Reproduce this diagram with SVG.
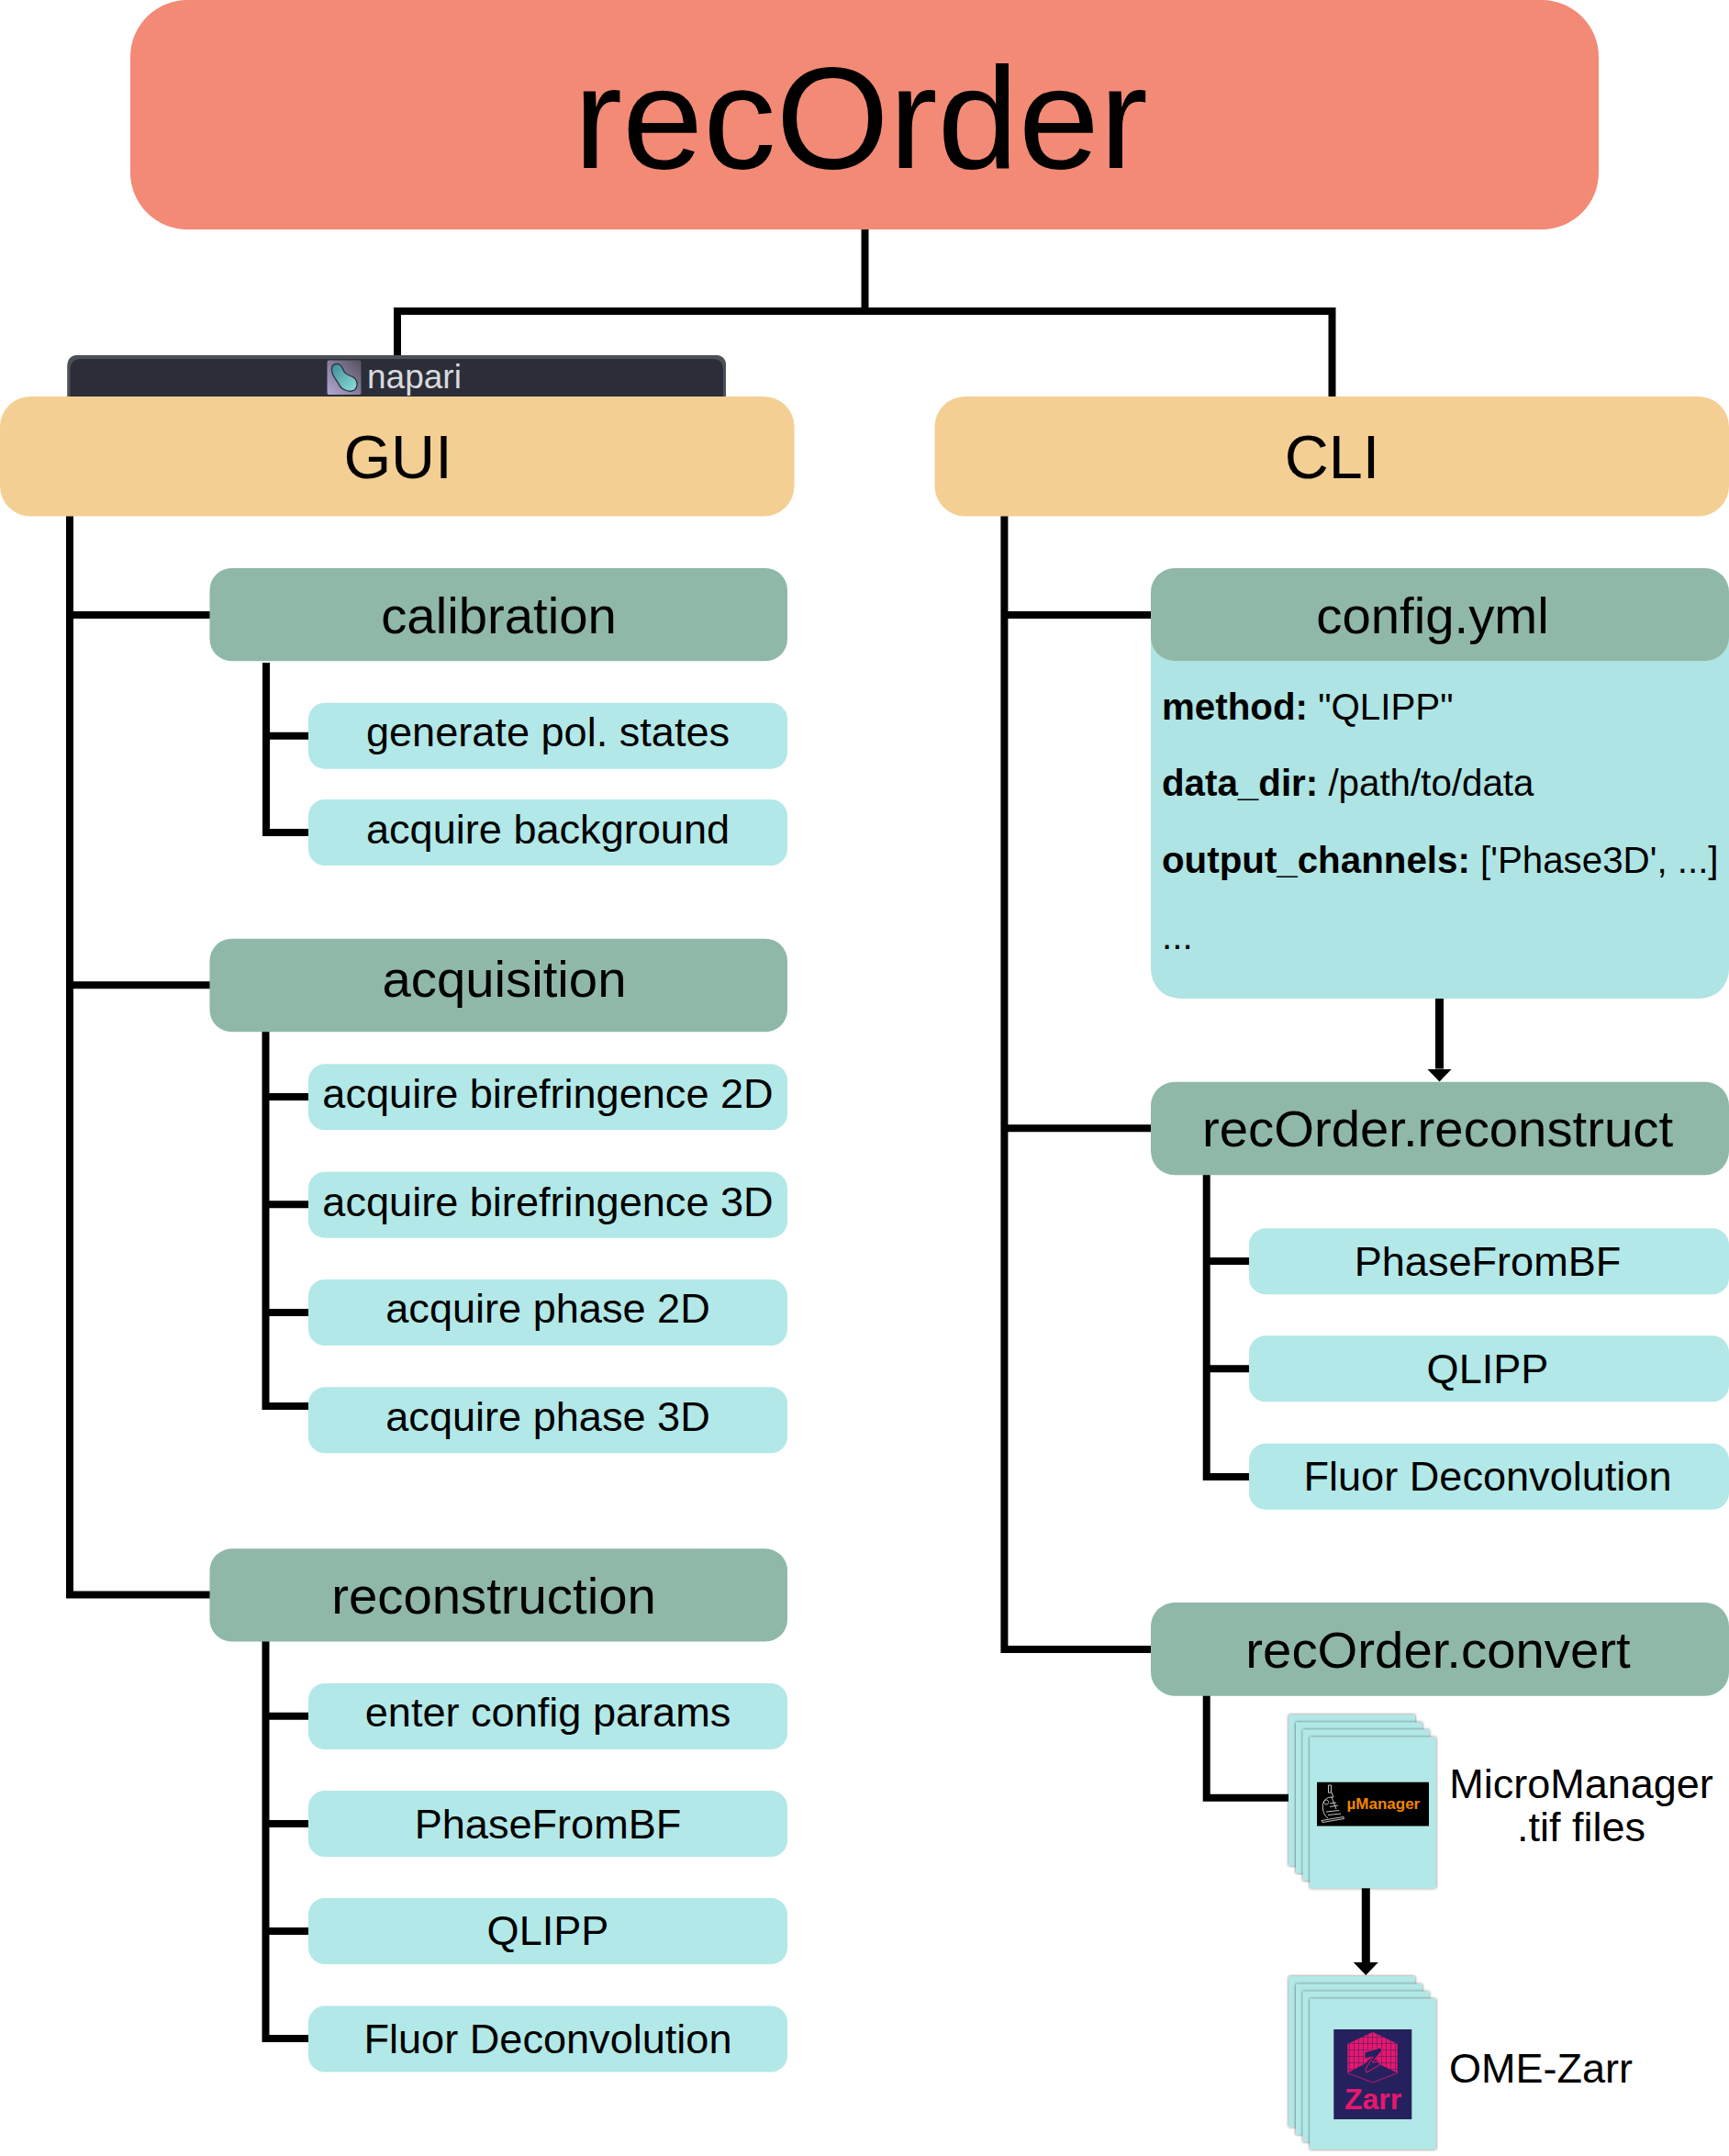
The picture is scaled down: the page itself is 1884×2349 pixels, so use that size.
<svg xmlns="http://www.w3.org/2000/svg" width="1884" height="2349" viewBox="0 0 1884 2349">
<style>
text{font-family:"Liberation Sans",Arial,sans-serif;fill:#000}
.c{text-anchor:middle}
.root{fill:#F28A76}
.top{fill:#F4CF94}
.head{fill:#8FB8A8}
.leaf{fill:#B2E8E7}
.t1{font-size:66.500px}
.t2{font-size:56.300px}
.t3{font-size:45.100px}
.t4{font-size:40.300px}
.t5{font-size:45px}
.b{font-weight:700}
.ln{fill:none;stroke:#000;stroke-width:8}
.arr{fill:none;stroke:#000;stroke-width:9}
.page{fill:#B2E8E7;filter:url(#sh)}
</style>
<defs>
<marker id="ah" markerUnits="userSpaceOnUse" markerWidth="15" markerHeight="28" refX="0" refY="14" orient="auto" viewBox="0 0 15 28"><path d="M0 .5V27.500L14 14Z" fill="#000"/></marker>
<filter id="sh" x="-10%" y="-10%" width="125%" height="125%"><feDropShadow dx="0" dy="0" stdDeviation="1.800" flood-color="#000" flood-opacity=".65"/></filter>
<linearGradient id="nap" x1="0" y1="1" x2="1" y2="0"><stop offset="0" stop-color="#B4A9D4"/><stop offset="1" stop-color="#54505F"/></linearGradient>
<linearGradient id="blob" x1="0" y1="0" x2="1" y2="1"><stop offset="0" stop-color="#3E8A96"/><stop offset="1" stop-color="#8FE0DC"/></linearGradient>
<pattern id="grid" width="5" height="7" patternUnits="userSpaceOnUse"><rect width="5" height="7" fill="#E6176F"/><path d="M0 0H5M0 0V7" stroke="#25215E" stroke-width=".9"/></pattern>
</defs>

<g id="connectors">
<path class="ln" d="M942.500 250V339M433 432V339H1451.500V432"/>
<path class="ln" d="M76 562V1737.500H229M76 670H229M76 1073.300H229"/>
<path class="ln" d="M290 722V907H336M290 801.700H336"/>
<path class="ln" d="M289.500 1124V1532H336M289.500 1195H336M289.500 1312.300H336M289.500 1430H336"/>
<path class="ln" d="M289.500 1788V2221H336M289.500 1869.700H336M289.500 1987H336M289.500 2104H336"/>
<path class="ln" d="M1094.400 562V1797H1254M1094.400 670H1254M1094.400 1229.300H1254"/>
<path class="ln" d="M1314.700 1280V1609H1361M1314.700 1374H1361M1314.700 1491.300H1361"/>
<path class="ln" d="M1314.700 1847V1958.700H1404"/>
<path class="arr" d="M1568.500 1088V1164.500" marker-end="url(#ah)"/>
<path class="arr" d="M1488.300 2057V2138" marker-end="url(#ah)"/>
</g>

<g id="root"><rect class="root" x="142" y="0" width="1600" height="250" rx="62"/><text class="c" x="938" y="182.500" font-size="158.500">recOrder</text></g>

<g id="napari-bar">
<path d="M73.500 432V399Q73.500 387 85.500 387H779Q791 387 791 399V432Z" fill="#2B2E38"/>
<path d="M73.500 432V399Q73.500 387 85.500 387H779Q791 387 791 399V432H788V403Q788 391 776 391H88.500Q76.500 391 76.500 403V432Z" fill="#4C5158"/>
<rect x="356.500" y="392.500" width="37" height="37.500" rx="2" fill="url(#nap)"/>
<path d="M362 399C365 395 371 396 373 401C375 406 377 408 383 410C390 413 391 421 386 425C381 428 373 425 370 420C367 414 359 407 362 399Z" fill="url(#blob)" stroke="#2B2E38" stroke-width="1.300"/>
<text x="400" y="423" font-size="37" style="fill:#D8D9DC">napari</text>
</g>

<g id="gui"><rect class="top" x="0" y="432" width="865.500" height="130.500" rx="33"/><text class="c t1" x="433.500" y="521">GUI</text></g>
<g id="cli"><rect class="top" x="1018.500" y="432" width="865.500" height="130.500" rx="33"/><text class="c t1" x="1451.500" y="521">CLI</text></g>

<g id="calibration"><rect class="head" x="228.500" y="619" width="629.500" height="101.300" rx="24"/><text class="c t2" x="543.500" y="689.500">calibration</text></g>
<g id="generate-pol-states"><rect class="leaf" x="336" y="765.700" width="522" height="72" rx="18"/><text class="c t3" x="597" y="812.500">generate pol. states</text></g>
<g id="acquire-background"><rect class="leaf" x="336" y="871" width="522" height="72" rx="18"/><text class="c t3" x="597" y="918.500">acquire background</text></g>

<g id="acquisition"><rect class="head" x="228.500" y="1022.700" width="629.500" height="101.600" rx="24"/><text class="c t2" x="549.500" y="1086">acquisition</text></g>
<g id="acquire-birefringence-2d"><rect class="leaf" x="336" y="1159.300" width="522" height="72" rx="18"/><text class="c t3" x="597" y="1207">acquire birefringence 2D</text></g>
<g id="acquire-birefringence-3d"><rect class="leaf" x="336" y="1276.700" width="522" height="72" rx="18"/><text class="c t3" x="597" y="1324.500">acquire birefringence 3D</text></g>
<g id="acquire-phase-2d"><rect class="leaf" x="336" y="1394" width="522" height="72" rx="18"/><text class="c t3" x="597" y="1440.700">acquire phase 2D</text></g>
<g id="acquire-phase-3d"><rect class="leaf" x="336" y="1511.300" width="522" height="72" rx="18"/><text class="c t3" x="597" y="1559">acquire phase 3D</text></g>

<g id="reconstruction"><rect class="head" x="228.500" y="1687.300" width="629.500" height="101.200" rx="24"/><text class="c t2" x="538" y="1757.500">reconstruction</text></g>
<g id="enter-config-params"><rect class="leaf" x="336" y="1834" width="522" height="72" rx="18"/><text class="c t3" x="597" y="1881">enter config params</text></g>
<g id="gui-phasefrombf"><rect class="leaf" x="336" y="1951" width="522" height="72" rx="18"/><text class="c t3" x="597" y="2003">PhaseFromBF</text></g>
<g id="gui-qlipp"><rect class="leaf" x="336" y="2068" width="522" height="72" rx="18"/><text class="c t3" x="597" y="2119">QLIPP</text></g>
<g id="gui-fluor"><rect class="leaf" x="336" y="2185.500" width="522" height="72" rx="18"/><text class="c t3" x="597" y="2237">Fluor Deconvolution</text></g>

<g id="config-yml">
<rect x="1254" y="619" width="630" height="469" rx="32" fill="#AEE4E3"/>
<rect class="head" x="1254" y="619" width="630" height="101" rx="26"/>
<text class="c t2" x="1561" y="689.500">config.yml</text>
<text class="t4" x="1266" y="784"><tspan class="b">method:</tspan> "QLIPP"</text>
<text class="t4" x="1266" y="867"><tspan class="b">data_dir:</tspan> /path/to/data</text>
<text class="t4" x="1266" y="950.500"><tspan class="b">output_channels:</tspan> ['Phase3D', ...]</text>
<text class="t4" x="1266" y="1034">...</text>
</g>

<g id="recorder-reconstruct"><rect class="head" x="1254" y="1178.700" width="630" height="101.600" rx="26"/><text class="c t2" x="1566.500" y="1249.300">recOrder.reconstruct</text></g>
<g id="cli-phasefrombf"><rect class="leaf" x="1361" y="1338.300" width="523" height="72" rx="18"/><text class="c t3" x="1621" y="1390">PhaseFromBF</text></g>
<g id="cli-qlipp"><rect class="leaf" x="1361" y="1455.300" width="523" height="72" rx="18"/><text class="c t3" x="1621" y="1507">QLIPP</text></g>
<g id="cli-fluor"><rect class="leaf" x="1361" y="1572.700" width="523" height="72" rx="18"/><text class="c t3" x="1621" y="1624">Fluor Deconvolution</text></g>

<g id="recorder-convert"><rect class="head" x="1254" y="1746" width="630" height="101.700" rx="26"/><text class="c t2" x="1567" y="1816.700">recOrder.convert</text></g>

<g id="micromanager-files">
<rect class="page" x="1404.300" y="1868.300" width="137.700" height="164.500"/>
<rect class="page" x="1412" y="1876.500" width="137.700" height="164.500"/>
<rect class="page" x="1419.700" y="1884.500" width="137.700" height="164.500"/>
<rect class="page" x="1427.300" y="1892.700" width="137.400" height="164.500"/>
<rect x="1435" y="1941.700" width="122" height="47.800" fill="#000"/>
<g fill="none" stroke="#D8D8D8" stroke-width=".9">
<path d="M1447.500 1945V1953M1450.500 1945V1953M1447.500 1945H1450.500M1447 1953H1451L1453 1958C1445 1957 1440 1963 1441.500 1971C1442.300 1976 1444 1979 1447 1981M1451 1958L1456 1971"/>
<path d="M1440 1983.500L1464 1979.500L1464.500 1981.500L1441 1985.500ZM1447 1977.500L1461 1976M1445 1974L1459 1972.500M1449 1965L1456 1964M1449 1968.500L1458 1967M1445 1961A2.500 2.500 0 1 0 1445.100 1961"/>
</g>
<text x="1467.500" y="1971" font-size="17" font-weight="700" style="fill:#F28500">µManager</text>
<text class="c t5" x="1723" y="1959">MicroManager</text>
<text class="c t5" x="1723" y="2006">.tif files</text>
</g>

<g id="ome-zarr-files">
<rect class="page" x="1404.300" y="2153.300" width="137.700" height="164"/>
<rect class="page" x="1412" y="2161.700" width="137.700" height="164"/>
<rect class="page" x="1419.700" y="2169.700" width="137.700" height="164"/>
<rect class="page" x="1427.300" y="2177.700" width="137.400" height="164"/>
<rect x="1453.300" y="2211" width="85" height="98" fill="#25215E"/>
<path d="M1468.300 2226.700L1496 2214V2240L1488 2248L1468.300 2258.500Z" fill="url(#grid)"/>
<path d="M1496 2214L1522.700 2226.700V2258.500L1503 2249L1496 2240Z" fill="url(#grid)"/>
<path d="M1468.300 2258.500L1496 2269L1522.700 2258.500" fill="none" stroke="#E6176F" stroke-width=".8"/>
<path d="M1487 2236L1504 2231L1506 2234L1495 2247L1503 2246L1503 2250L1489 2258L1488 2254L1496 2241L1487 2243Z" fill="#25215E" stroke="#E6176F" stroke-width="1"/>
<text class="c" x="1496" y="2297.700" font-size="32" font-weight="700" style="fill:#E6176F">Zarr</text>
<text class="t5" x="1579" y="2269">OME-Zarr</text>
</g>
</svg>
